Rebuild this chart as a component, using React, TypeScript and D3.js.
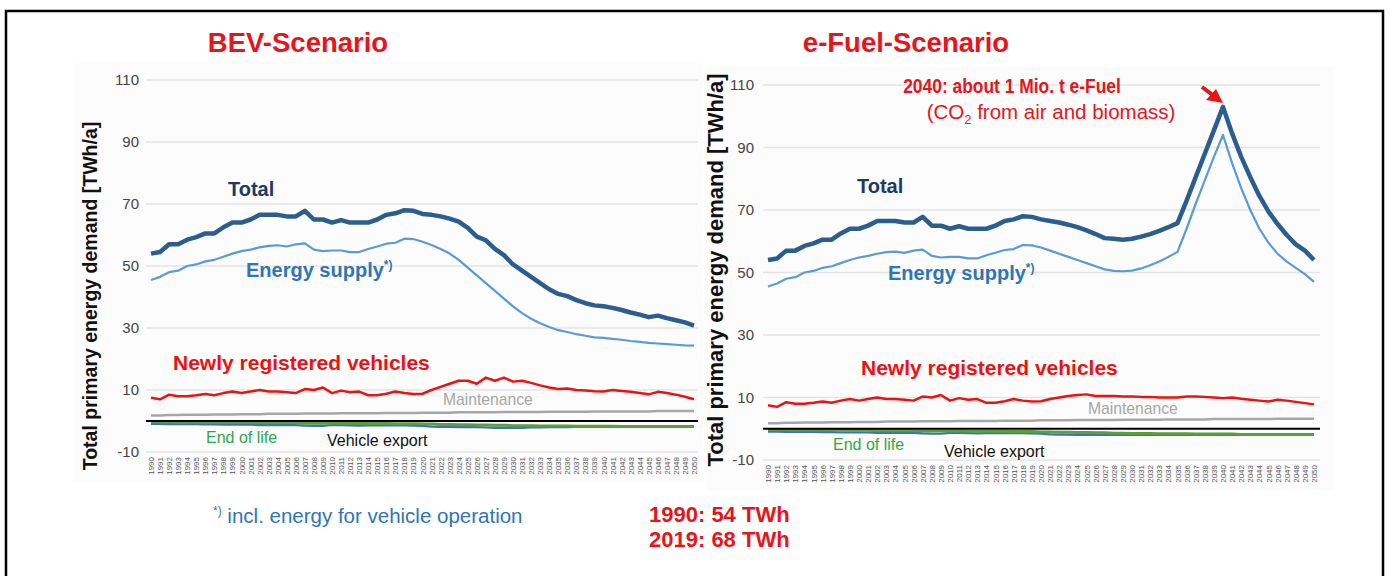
import React from "react";
import * as d3 from "d3";

const years = d3.range(1990, 2051);
const yTicks = [110, 90, 70, 50, 30, 10, -10];

const bevTotal = [54,54.5,57,57,58.5,59.3,60.5,60.5,62.5,64, 64,65,66.5,66.5,66.5,66,66,67.8,65,65, 64,64.8,64,64,64,65,66.5,67,68,67.8, 66.8,66.5,66,65.3,64.3,62.3,59.5,58.3,55.5,53.5, 50.5,48.5,46.5,44.5,42.5,41,40.3,39,38,37.3, 37,36.5,35.8,35,34.3,33.5,34,33.2,32.5,31.8,30.8];
const bevSupply = [45.5,46.5,48,48.5,50,50.5,51.5,52,53,54, 54.8,55.3,56,56.5,56.7,56.3,57,57.3,55.3,54.8, 55,55,54.5,54.5,55.5,56.3,57.2,57.5,58.8,58.7, 57.8,56.8,55.5,54,52,49.5,47,44.5,42,39.5, 37,34.8,33,31.5,30.3,29.3,28.7,28,27.5,27, 26.8,26.5,26.2,25.8,25.5,25.2,25,24.8,24.6,24.4,24.3];
const bevNew = [7.5,7,8.5,8,8,8.3,8.7,8.3,9,9.5, 9,9.5,10,9.5,9.5,9.3,9,10.3,10,10.8, 9,9.8,9.3,9.5,8.3,8.3,8.8,9.5,9,8.7, 8.8,10,11,12,13,13,12,14,13,14, 12.7,13,12.3,11.5,10.8,10.3,10.5,10,9.8,9.6, 9.5,10,9.7,9.4,9,8.6,9.4,9,8.5,7.8,7];
const bevMaint = [1.8,1.8,1.9,1.9,2,2,2,2.1,2.1,2.1, 2.2,2.2,2.2,2.3,2.3,2.3,2.3,2.4,2.4,2.4, 2.4,2.5,2.5,2.5,2.5,2.5,2.6,2.6,2.6,2.6, 2.7,2.7,2.7,2.7,2.8,2.8,2.8,2.8,2.8,2.9, 2.9,2.9,2.9,2.9,3,3,3,3,3,3.1, 3.1,3.1,3.1,3.1,3.1,3.1,3.2,3.2,3.2,3.2,3.2];
const bevEol = [-0.3,-0.3,-0.3,-0.4,-0.4,-0.4,-0.4,-0.5,-0.5,-0.5, -0.5,-0.5,-0.6,-0.6,-0.6,-0.6,-0.6,-0.7,-0.7,-0.7, -0.7,-0.7,-0.8,-0.8,-0.8,-0.8,-0.8,-0.9,-0.9,-0.9, -1,-1,-1.1,-1.1,-1.2,-1.2,-1.3,-1.3,-1.4,-1.4, -1.5,-1.5,-1.5,-1.6,-1.6,-1.6,-1.6,-1.7,-1.7,-1.7, -1.7,-1.7,-1.8,-1.8,-1.8,-1.8,-1.8,-1.8,-1.8,-1.8,-1.8];
const bevExport = [-0.9,-0.9,-1,-1,-1,-1,-1.1,-1.1,-1.2,-1.2, -1.2,-1.2,-1.3,-1.3,-1.3,-1.3,-1.3,-1.5,-1.6,-1.6, -1.3,-1.3,-1.4,-1.5,-1.4,-1.4,-1.4,-1.4,-1.4,-1.5, -1.6,-1.8,-1.9,-1.9,-2,-2,-2,-2.1,-2.2,-2.2, -2.2,-2.2,-2.1,-2.1,-2,-2,-2,-1.9,-1.9,-1.9, -1.9,-1.9,-1.8,-1.8,-1.8,-1.8,-1.8,-1.8,-1.8,-1.8,-1.8];

const efTotal = [54,54.5,57,57,58.5,59.3,60.5,60.5,62.5,64, 64,65,66.5,66.5,66.5,66,66,67.8,65,65, 64,64.8,64,64,64,65,66.5,67,68,67.8, 67,66.5,66,65.3,64.5,63.5,62.3,61,60.8,60.5, 60.8,61.5,62.3,63.3,64.5,65.8,73,80.5,88,95.5, 103,94.5,87,80.5,74.5,69.5,65.5,62,59,57,54];
const efSupply = [45.5,46.5,48,48.5,50,50.5,51.5,52,53,54, 54.8,55.3,56,56.5,56.7,56.3,57,57.3,55.3,54.8, 55,55,54.5,54.5,55.5,56.3,57.2,57.5,58.8,58.7, 58,57,56,55,54,53,52,51,50.5,50.4, 50.6,51.3,52.3,53.5,55,56.6,64,72,79.5,87, 94,85,77,70,64,59.5,56,53.5,51.5,49.5,47];
const efNew = [7.5,7,8.5,8,8,8.3,8.7,8.3,9,9.5, 9,9.5,10,9.5,9.5,9.3,9,10.3,10,10.8, 9,9.8,9.3,9.5,8.3,8.3,8.8,9.5,9,8.7, 8.8,9.5,10,10.5,10.8,11,10.5,10.5,10.5,10.3, 10.3,10.2,10.2,10,10,10,10.3,10.3,10.2,10, 9.8,10,9.6,9.3,9,8.7,9.3,9,8.6,8.2,7.8];
const efMaint = bevMaint;
const efEol = bevEol;
const efExport = [-0.9,-0.9,-1,-1,-1,-1,-1.1,-1.1,-1.2,-1.2, -1.2,-1.2,-1.3,-1.3,-1.3,-1.3,-1.3,-1.5,-1.6,-1.6, -1.3,-1.3,-1.4,-1.5,-1.4,-1.4,-1.4,-1.4,-1.4,-1.5, -1.6,-1.8,-1.9,-1.9,-2,-2,-2,-2,-2,-2, -2,-2,-2,-2,-2,-2,-2,-2,-2,-2, -2,-2,-2,-1.9,-1.9,-1.9,-1.9,-1.9,-1.8,-1.8,-1.8];

const FONT = "'Liberation Sans', Arial, sans-serif";

type Series = { total: number[]; supply: number[]; newly: number[]; maint: number[]; eol: number[]; exp: number[] };
type Cfg = {
  x0: number; x1: number; yTop: number; yBot: number; gx0: number; gx1: number;
  tickX: number; axisLabelX: number; axisLabelY: number; axisFont: number;
  bg: [number, number, number, number];
};

function Panel({ cfg, s }: { cfg: Cfg; s: Series }) {
  const x = d3.scaleLinear().domain([1990, 2050]).range([cfg.x0, cfg.x1]);
  const y = d3.scaleLinear().domain([-10, 110]).range([cfg.yBot, cfg.yTop]);
  const line = d3.line<number>().x((_, i) => x(years[i])).y((d) => y(d)).curve(d3.curveLinear);
  return (
    <g>
      <rect x={cfg.bg[0]} y={cfg.bg[1]} width={cfg.bg[2]} height={cfg.bg[3]} fill="#fcfcfc" />
      {yTicks.map((t) => (
        <g key={t}>
          <line x1={cfg.gx0} x2={cfg.gx1} y1={y(t)} y2={y(t)} stroke="#e4e4e4" strokeWidth={1.5} />
          <text x={cfg.tickX} y={y(t)} dy="0.35em" textAnchor="end" fontFamily={FONT} fontSize={15} fill="#444">
            {t}
          </text>
        </g>
      ))}
      {years.map((yr) => (
        <text key={yr} transform={`translate(${x(yr) + 3},${cfg.yBot + 5}) rotate(-90)`} textAnchor="end"
          fontFamily={FONT} fontSize={8} fill="#555">
          {yr}
        </text>
      ))}
      <text transform={`translate(${cfg.axisLabelX},${cfg.axisLabelY}) rotate(-90)`} textAnchor="middle"
        fontFamily={FONT} fontWeight="bold" fontSize={cfg.axisFont} fill="#111">
        Total primary energy demand [TWh/a]
      </text>
      <path d={line(s.maint) || ""} fill="none" stroke="#a6a6a6" strokeWidth={2.5} />
      <path d={line(s.exp) || ""} fill="none" stroke="#3d6fc0" strokeWidth={2.2} />
      <path d={line(s.eol) || ""} fill="none" stroke="#5a9e3e" strokeWidth={3} />
      <line x1={cfg.gx0} x2={cfg.gx1} y1={y(0)} y2={y(0)} stroke="#000" strokeWidth={2.2} />
      <path d={line(s.newly) || ""} fill="none" stroke="#ee1111" strokeWidth={2.5} strokeLinejoin="round" />
      <path d={line(s.supply) || ""} fill="none" stroke="#5b9bd5" strokeWidth={2.2} strokeLinejoin="round" />
      <path d={line(s.total) || ""} fill="none" stroke="#2b5d8e" strokeWidth={4.5} strokeLinejoin="round" />
    </g>
  );
}

const leftCfg: Cfg = { x0: 151, x1: 694, yTop: 80, yBot: 452, gx0: 146, gx1: 698, tickX: 139, axisLabelX: 97, axisLabelY: 296, axisFont: 19.5, bg: [73, 62, 630, 421] };
const rightCfg: Cfg = { x0: 768, x1: 1314, yTop: 85, yBot: 460, gx0: 763, gx1: 1320, tickX: 754, axisLabelX: 723, axisLabelY: 270, axisFont: 22, bg: [706, 66, 628, 424] };

function Labels({ t, es, nr, mt, eol, ve }: { t: [number, number]; es: [number, number]; nr: [number, number]; mt: [number, number]; eol: [number, number]; ve: [number, number] }) {
  return (
    <g fontFamily={FONT}>
      <text x={t[0]} y={t[1]} fontWeight="bold" fontSize={20} fill="#1f3864">Total</text>
      <text x={es[0]} y={es[1]} fontWeight="bold" fontSize={20} fill="#2e75b6">
        Energy supply<tspan dy={-8} fontSize={12}>*)</tspan>
      </text>
      <text x={nr[0]} y={nr[1]} fontWeight="bold" fontSize={21} fill="#ee1111">Newly registered vehicles</text>
      <text x={mt[0]} y={mt[1]} fontSize={15.7} fill="#a6a6a6">Maintenance</text>
      <text x={eol[0]} y={eol[1]} fontSize={16} fill="#2ea84a">End of life</text>
      <text x={ve[0]} y={ve[1]} fontSize={16} fill="#111">Vehicle export</text>
    </g>
  );
}

export default function App() {
  return (
    <svg width={1389} height={576} style={{ position: "absolute", left: 0, top: 0, background: "#fff" }}>
      <rect x={0} y={0} width={1389} height={576} fill="#fff" />
      <rect x={6} y={11} width={1377} height={600} fill="none" stroke="#000" strokeWidth={2.5} />
      <text x={298} y={52} textAnchor="middle" fontFamily={FONT} fontWeight="bold" fontSize={27.5} fill="#e8141b">BEV-Scenario</text>
      <text x={906} y={52} textAnchor="middle" fontFamily={FONT} fontWeight="bold" fontSize={27.5} fill="#e8141b">e-Fuel-Scenario</text>
      <Panel cfg={leftCfg} s={{ total: bevTotal, supply: bevSupply, newly: bevNew, maint: bevMaint, eol: bevEol, exp: bevExport }} />
      <Panel cfg={rightCfg} s={{ total: efTotal, supply: efSupply, newly: efNew, maint: efMaint, eol: efEol, exp: efExport }} />
      <Labels t={[228, 196]} es={[246, 277]} nr={[173, 370]} mt={[443, 405]} eol={[206, 443]} ve={[327, 446]} />
      <Labels t={[857, 193]} es={[888, 280]} nr={[861, 375]} mt={[1088, 414]} eol={[833, 450]} ve={[944, 457]} />
      <text transform="translate(1012,93) scale(0.83,1)" textAnchor="middle" fontFamily={FONT} fontWeight="bold" fontSize={21} fill="#e8141b">2040: about 1 Mio. t e-Fuel</text>
      <text x={1051} y={119} textAnchor="middle" fontFamily={FONT} fontSize={20.5} fill="#e8141b">
        (CO<tspan dy={5} fontSize={13}>2</tspan><tspan dy={-5}> from air and biomass)</tspan>
      </text>
      <line x1={1202} y1={87} x2={1214} y2={96} stroke="#e8141b" strokeWidth={4} />
      <polygon points="1223,103 1206,100 1216,89" fill="#e8141b" />
      <text x={213} y={523} fontFamily={FONT} fontSize={20.5} fill="#2e75b6">
        <tspan fontSize={12} dy={-8}>*)</tspan><tspan dy={8}> incl. energy for vehicle operation</tspan>
      </text>
      <text x={649} y={522} fontFamily={FONT} fontWeight="bold" fontSize={22} fill="#e8141b">1990: 54 TWh</text>
      <text x={649} y={547} fontFamily={FONT} fontWeight="bold" fontSize={22} fill="#e8141b">2019: 68 TWh</text>
    </svg>
  );
}
